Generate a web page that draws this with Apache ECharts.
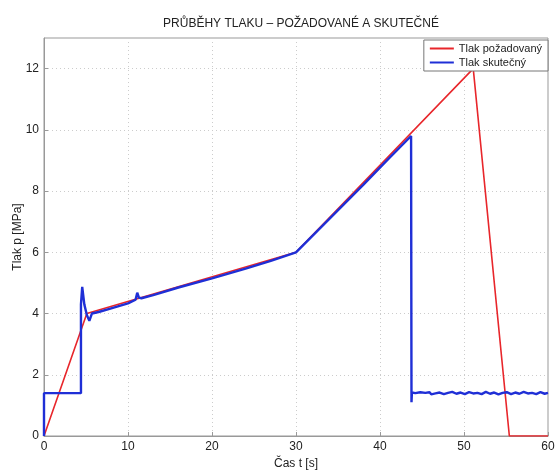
<!DOCTYPE html>
<html>
<head>
<meta charset="utf-8">
<script src="https://cdn.jsdelivr.net/npm/echarts@6/dist/echarts.min.js"></script>
<style>
html,body{margin:0;padding:0;background:#fff;}
#chart{width:559px;height:471px;}
</style>
</head>
<body>
<div id="chart"></div>
<script>
// pozadovany tlak
var reqTime = [0, 5.1, 30, 51.1, 55.4, 60];
var reqPressure = [0, 4.0, 6.0, 12.0, 0, 0];

// skutecny tlak
var actTime = [0, 0, 4.4, 4.4, 4.55, 4.8, 5.1, 5.4, 5.7, 6.5, 8, 10, 10.9, 11.1, 11.3, 11.6, 13, 16, 20, 24, 27, 30,
	34, 38, 41, 43.7, 43.75, 43.8, 44.2, 44.8, 45.4, 45.9, 46.1, 46.6, 47.1, 47.6, 48.1, 48.6, 49.1, 49.6, 50.1,
	50.6, 51.1, 51.6, 52.1, 52.6, 53.1, 53.6, 54.1, 54.6, 55.1, 55.6, 56.1, 56.6, 57.1, 57.6, 58.1, 58.6, 59.1, 59.6, 60];
var actPressure = [0, 1.4, 1.4, 4.3, 4.87, 4.3, 3.95, 3.76, 4.0, 4.05, 4.17, 4.33, 4.45, 4.68, 4.52, 4.5, 4.6, 4.85, 5.15, 5.47, 5.72, 6.0,
	7.1, 8.2, 9.05, 9.8, 1.1, 1.42, 1.4, 1.43, 1.41, 1.43, 1.36, 1.39, 1.42, 1.37, 1.41, 1.44, 1.38, 1.42, 1.37,
	1.43, 1.39, 1.41, 1.37, 1.44, 1.38, 1.42, 1.36, 1.41, 1.43, 1.37, 1.42, 1.38, 1.44, 1.39, 1.41, 1.37, 1.43, 1.38, 1.41];

var xTicks = [0, 10, 20, 30, 40, 50, 60];
var yTicks = [0, 2, 4, 6, 8, 10, 12];

function pairs(xs, ys){
	var out = [];
	for(var i = 0; i < xs.length; i++){
		out.push([xs[i], ys[i]]);
	}
	return out;
}

var font = "'Liberation Sans', Arial, Helvetica, sans-serif";
var chart = echarts.init(document.getElementById('chart'));
chart.setOption({
	animation: false,
	title: {
		text: 'PRŮBĚHY TLAKU – POŽADOVANÉ A SKUTEČNÉ',
		left: 296,
		textAlign: 'center',
		top: 13,
		textStyle: {fontFamily: font, fontSize: 12, fontWeight: 'normal', color: '#222'}
	},
	legend: {
		right: 11,
		top: 40,
		orient: 'vertical',
		itemWidth: 24,
		itemHeight: 2,
		itemGap: 3,
		padding: [3, 6, 3, 6],
		backgroundColor: '#fff',
		borderColor: '#777',
		borderWidth: 1,
		borderRadius: 0,
		icon: 'rect',
		textStyle: {fontFamily: font, fontSize: 11, color: '#222'},
		data: ['Tlak požadovaný', 'Tlak skutečný']
	},
	grid: {
		left: 44,
		right: 11,
		top: 38,
		bottom: 35,
		outerBoundsMode: 'none',
		containLabel: false,
		show: true,
		borderColor: '#999',
		borderWidth: 1
	},
	xAxis: {
		type: 'value',
		min: xTicks[0],
		max: xTicks[xTicks.length - 1],
		interval: 10,
		name: 'Čas t [s]',
		nameLocation: 'middle',
		nameGap: 21,
		nameTextStyle: {fontFamily: font, fontSize: 12, color: '#222'},
		axisLine: {lineStyle: {color: '#999'}},
		axisTick: {inside: true, length: 4, lineStyle: {color: '#999'}},
		axisLabel: {fontFamily: font, fontSize: 12, color: '#222', margin: 5},
		splitLine: {show: true, lineStyle: {color: '#ccc', type: [1, 3]}}
	},
	yAxis: {
		type: 'value',
		min: yTicks[0],
		max: 13,
		interval: 2,
		name: 'Tlak p [MPa]',
		nameLocation: 'middle',
		nameGap: 20,
		nameMoveOverlap: false,
		nameTextStyle: {fontFamily: font, fontSize: 12, color: '#222'},
		axisLine: {show: true, lineStyle: {color: '#999'}},
		axisTick: {show: true, inside: true, length: 4, lineStyle: {color: '#999'}},
		axisLabel: {fontFamily: font, fontSize: 12, color: '#222', margin: 5, showMaxLabel: false},
		splitLine: {show: true, lineStyle: {color: '#ccc', type: [1, 3]}}
	},
	series: [{
		name: 'Tlak požadovaný',
		type: 'line',
		showSymbol: false,
		color: '#e8262b',
		lineStyle: {width: 1.6, color: '#e8262b'},
		data: pairs(reqTime, reqPressure),
		z: 2
	},{
		name: 'Tlak skutečný',
		type: 'line',
		showSymbol: false,
		color: '#1f2fd6',
		lineStyle: {width: 2.4, color: '#1f2fd6'},
		data: pairs(actTime, actPressure),
		z: 3
	}]
});
</script>
</body>
</html>
